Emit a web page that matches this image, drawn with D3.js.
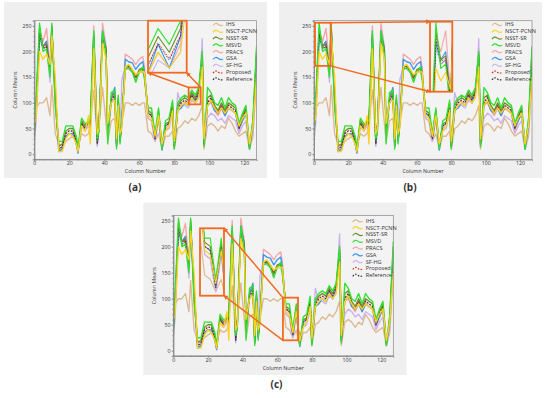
<!DOCTYPE html>
<html>
<head>
<meta charset="utf-8">
<script src="https://cdnjs.cloudflare.com/ajax/libs/d3/7.8.5/d3.min.js"></script>
<style>
  body { margin: 0; background: #fff; }
  svg { display: block; }
  text { font-family: "Open Sans", "DejaVu Sans", sans-serif; fill: #333; }
</style>
</head>
<body>
<div id="chart"></div>
<script>
var cols = [0,1,3,5,7,9,10,12,14,16,18,20,22,24,25,27,29,31,32,34,36,37,39,41,42,44,46,47,48,49,50,52,54,56,58,60,62,63,65,67,69,71,73,75,77,79,80,82,84,86,88,90,92,94,96,97,99,101,103,105,107,109,111,113,115,117,119,121,123,125,127];

var ihs       = [55,90,100,100,110,75,135,40,20,15,25,30,35,25,15,40,35,40,60,125,30,60,130,60,25,65,70,30,65,30,60,100,100,95,100,95,100,100,45,40,25,40,10,35,35,45,10,50,55,65,60,70,65,75,95,10,55,60,55,45,55,50,70,60,45,35,40,45,10,35,150];
var nsctPcnn  = [60,70,200,185,195,175,230,150,5,5,30,40,35,20,5,55,45,75,20,205,40,50,215,185,60,100,105,30,95,40,50,170,175,165,155,160,160,160,75,70,35,75,20,45,55,85,25,85,95,100,95,110,100,110,170,30,95,105,90,80,90,80,90,85,80,55,70,80,20,55,150];
var nsstSr    = [40,95,245,210,215,165,250,110,15,20,45,50,50,30,8,65,55,65,55,230,25,55,235,205,45,110,120,20,110,30,65,170,172,165,150,165,168,155,85,80,35,85,15,60,62,100,15,95,105,110,105,120,110,125,195,20,110,115,95,85,100,85,100,95,90,55,75,90,15,65,200];
var msvd      = [35,110,255,200,205,150,255,90,25,25,55,55,55,35,10,70,60,60,70,240,30,45,240,195,20,120,125,10,115,20,70,165,168,160,140,160,170,145,90,90,40,90,10,65,70,105,10,100,110,115,110,125,115,130,200,15,130,120,100,95,110,90,110,100,95,60,80,95,10,70,210];
var pracs     = [30,85,240,220,245,170,250,100,8,10,35,40,40,20,5,65,45,60,55,250,20,55,255,210,40,100,110,15,100,25,55,195,190,185,175,185,190,170,70,65,25,70,10,50,55,90,10,85,95,100,95,110,100,115,205,15,95,100,85,75,90,75,90,85,80,45,65,80,10,55,190];
var gsa       = [50,80,230,210,220,165,240,115,5,10,35,40,40,20,2,60,50,65,60,235,20,55,240,205,45,110,130,15,105,25,60,185,180,178,165,175,180,160,80,75,30,75,8,55,60,90,15,85,90,100,95,115,100,120,185,20,95,105,85,80,90,75,90,85,80,50,65,80,10,55,185];
var sfHg      = [25,60,225,205,210,140,240,125,10,10,35,40,40,20,5,55,45,55,50,220,15,50,225,195,40,100,115,20,100,30,145,170,165,160,150,160,160,150,70,65,25,70,15,45,50,80,20,120,95,95,90,105,100,110,225,25,70,80,75,65,70,60,75,70,65,40,55,65,15,45,170];
var proposed  = [45,92,235,208,212,158,246,118,10,14,40,46,44,25,5,62,50,64,60,228,20,58,232,200,42,106,116,15,104,26,62,168,171,162,148,162,166,152,80,76,30,80,14,55,60,95,15,90,100,105,100,116,106,121,192,20,101,110,90,81,95,80,96,90,85,50,70,85,14,60,192];
var reference = [45,90,235,205,210,160,245,120,10,15,40,45,45,25,5,60,50,65,60,225,20,60,230,200,40,105,115,15,105,25,60,165,170,160,145,160,165,150,80,75,30,80,15,55,60,95,15,90,100,105,100,115,105,120,190,20,100,110,90,80,95,80,95,90,85,50,70,85,15,60,190];

var seriesNames = ["IHS", "NSCT-PCNN", "NSST-SR", "MSVD", "PRACS", "GSA", "SF-HG", "Proposed", "Reference"];
var xTicks = [0, 20, 40, 60, 80, 100, 120];
var yTicks = [0, 50, 100, 150, 200, 250];

var colors = {
  "IHS": "#dcb98f", "NSCT-PCNN": "#ffd21c", "NSST-SR": "#6e8e2b", "MSVD": "#2fe02f",
  "PRACS": "#f4a6aa", "GSA": "#3b96ef", "SF-HG": "#cbb2ee", "Proposed": "#e3262c", "Reference": "#333"
};
var values = {
  "IHS": ihs, "NSCT-PCNN": nsctPcnn, "NSST-SR": nsstSr, "MSVD": msvd, "PRACS": pracs,
  "GSA": gsa, "SF-HG": sfHg, "Proposed": proposed, "Reference": reference
};
// drawing order (last one on top)
var drawOrder = ["IHS", "PRACS", "SF-HG", "GSA", "NSST-SR", "Proposed", "Reference", "MSVD", "NSCT-PCNN"];

var orange = "#f26a1f";

var panels = [
  { name: "a", bg: [4, 2, 267, 178], plot: [34.3, 256.5, 20.7, 159.3], legend: [213, 24.3], caption: [135, 191],
    zoom: [88.2, 95.1, 97, 130], inset: [148, 20.7, 186.7, 72.7], links: [["tl", "bl"], ["tr", "br"]] },
  { name: "b", bg: [279, 2, 542, 178], plot: [314, 532, 20.7, 159.3], legend: [492, 24.3], caption: [410, 191],
    zoom: [0.6, 9.7, 172, 256], inset: [430, 21.7, 452.3, 91.7], links: [["tr", "tl"], ["br", "bl"]] },
  { name: "c", bg: [143.3, 202.7, 406.7, 375], plot: [173.3, 393.3, 215.5, 355.9], legend: [352.7, 220.7], caption: [276.5, 388],
    zoom: [63.3, 72, 20, 102], inset: [200, 228.3, 224, 295.7], links: [["tl", "tr"], ["bl", "br"]] }
];

var svg = d3.select("#chart").append("svg")
    .attr("width", 550)
    .attr("height", 398);

var defs = svg.append("defs");
defs.append("marker")
    .attr("id", "arrowHead")
    .attr("viewBox", "0 0 10 10")
    .attr("refX", 8).attr("refY", 5)
    .attr("markerWidth", 3.2).attr("markerHeight", 3.2)
    .attr("orient", "auto")
  .append("path")
    .attr("d", "M0,0 L10,5 L0,10 z")
    .attr("fill", orange);

function drawLines(g, x, y, clipId, width) {
  drawOrder.forEach(function(name) {
    var line = d3.line()
        .x(function(d, i) { return x(cols[i]); })
        .y(function(d) { return y(d); });
    var p = g.append("path")
        .datum(values[name])
        .attr("clip-path", "url(#" + clipId + ")")
        .attr("fill", "none")
        .attr("stroke", colors[name])
        .attr("stroke-width", width)
        .attr("stroke-linejoin", "round")
        .attr("d", line);
    if (name === "Proposed" || name === "Reference") {
      p.attr("stroke-dasharray", "1.5,1.6").attr("stroke-width", width * 0.75);
    }
  });
}

panels.forEach(function(pn) {
  var g = svg.append("g");

  // grey panel background
  g.append("rect")
      .attr("x", pn.bg[0]).attr("y", pn.bg[1])
      .attr("width", pn.bg[2] - pn.bg[0]).attr("height", pn.bg[3] - pn.bg[1])
      .attr("fill", "#efefef");

  var x = d3.scaleLinear().domain([0, 127]).range([pn.plot[0], pn.plot[1]]);
  var y = d3.scaleLinear().domain([-10, 260]).range([pn.plot[3], pn.plot[2]]);

  var clipId = "clip-" + pn.name;
  defs.append("clipPath").attr("id", clipId)
    .append("rect")
      .attr("x", pn.plot[0]).attr("y", pn.plot[2])
      .attr("width", pn.plot[1] - pn.plot[0]).attr("height", pn.plot[3] - pn.plot[2]);

  g.append("rect")
      .attr("x", pn.plot[0]).attr("y", pn.plot[2])
      .attr("width", pn.plot[1] - pn.plot[0]).attr("height", pn.plot[3] - pn.plot[2])
      .attr("fill", "#f3f3f3");

  drawLines(g, x, y, clipId, 1.35);

  // frame
  g.append("rect")
      .attr("x", pn.plot[0]).attr("y", pn.plot[2])
      .attr("width", pn.plot[1] - pn.plot[0]).attr("height", pn.plot[3] - pn.plot[2])
      .attr("fill", "none").attr("stroke", "#888").attr("stroke-width", 0.7);

  // axes
  var xAxis = g.append("g")
      .attr("transform", "translate(0," + pn.plot[3] + ")")
      .call(d3.axisBottom(x).tickValues(xTicks).tickSize(1.8).tickPadding(0.6));
  var yAxis = g.append("g")
      .attr("transform", "translate(" + pn.plot[0] + ",0)")
      .call(d3.axisLeft(y).tickValues(yTicks).tickSize(1.8).tickPadding(1));
  g.append("g")
      .attr("transform", "translate(0," + pn.plot[3] + ")")
      .call(d3.axisBottom(x).tickValues(d3.range(0, 128, 5)).tickSize(1).tickFormat(""));
  g.append("g")
      .attr("transform", "translate(" + pn.plot[0] + ",0)")
      .call(d3.axisLeft(y).tickValues(d3.range(0, 261, 10)).tickSize(1).tickFormat(""));
  g.selectAll(".domain").attr("stroke", "#888").attr("stroke-width", 0.7);
  g.selectAll(".tick line").attr("stroke", "#777").attr("stroke-width", 0.6);
  [xAxis, yAxis].forEach(function(a) {
    a.selectAll("text").attr("font-size", "5.2px").attr("fill", "#333");
  });

  // axis titles
  g.append("text")
      .attr("x", (pn.plot[0] + pn.plot[1]) / 2)
      .attr("y", pn.plot[3] + 13.6)
      .attr("text-anchor", "middle")
      .attr("font-size", "5.3px")
      .text("Column Number");
  g.append("text")
      .attr("transform", "translate(" + (pn.plot[0] - 17) + "," + ((pn.plot[2] + pn.plot[3]) / 2) + ") rotate(-90)")
      .attr("text-anchor", "middle")
      .attr("font-size", "5.3px")
      .text("Column Means");

  // legend
  var lg = g.append("g").attr("transform", "translate(" + pn.legend[0] + "," + pn.legend[1] + ")");
  seriesNames.forEach(function(name, i) {
    var row = lg.append("g").attr("transform", "translate(0," + (i * 6.8) + ")");
    var wave = row.append("path")
        .attr("d", "M0,1.2 Q2.5,-2.2 5,0 T10,0.6")
        .attr("fill", "none")
        .attr("stroke", colors[name])
        .attr("stroke-width", 1.2);
    if (name === "Proposed" || name === "Reference") wave.attr("stroke-dasharray", "1.6,1.4");
    row.append("text")
        .attr("x", 13).attr("y", 2)
        .attr("font-size", "5.6px")
        .text(name);
  });

  // zoom region, inset and arrows
  var sx0 = x(pn.zoom[0]), sx1 = x(pn.zoom[1]), sy0 = y(pn.zoom[3]), sy1 = y(pn.zoom[2]);
  var src = { tl: [sx0, sy0], tr: [sx1, sy0], bl: [sx0, sy1], br: [sx1, sy1] };
  var ins = pn.inset;
  var dst = { tl: [ins[0], ins[1]], tr: [ins[2], ins[1]], bl: [ins[0], ins[3]], br: [ins[2], ins[3]] };

  var ix = d3.scaleLinear().domain([pn.zoom[0], pn.zoom[1]]).range([ins[0], ins[2]]);
  var iy = d3.scaleLinear().domain([pn.zoom[2], pn.zoom[3]]).range([ins[3], ins[1]]);
  var insetClip = "inset-" + pn.name;
  defs.append("clipPath").attr("id", insetClip)
    .append("rect")
      .attr("x", ins[0]).attr("y", ins[1])
      .attr("width", ins[2] - ins[0]).attr("height", ins[3] - ins[1]);
  g.append("rect")
      .attr("x", ins[0]).attr("y", ins[1])
      .attr("width", ins[2] - ins[0]).attr("height", ins[3] - ins[1])
      .attr("fill", "#f3f3f3");
  drawLines(g, ix, iy, insetClip, 1.1);

  g.append("rect")
      .attr("x", sx0).attr("y", sy0)
      .attr("width", sx1 - sx0).attr("height", sy1 - sy0)
      .attr("fill", "none").attr("stroke", orange).attr("stroke-width", 1.8);
  g.append("rect")
      .attr("x", ins[0]).attr("y", ins[1])
      .attr("width", ins[2] - ins[0]).attr("height", ins[3] - ins[1])
      .attr("fill", "none").attr("stroke", orange).attr("stroke-width", 1.8);

  pn.links.forEach(function(l) {
    var a = src[l[0]], b = dst[l[1]];
    g.append("line")
        .attr("x1", a[0]).attr("y1", a[1])
        .attr("x2", b[0]).attr("y2", b[1])
        .attr("stroke", orange)
        .attr("stroke-width", 1.5)
        .attr("marker-end", "url(#arrowHead)");
  });

  // caption
  svg.append("text")
      .attr("x", pn.caption[0]).attr("y", pn.caption[1])
      .attr("text-anchor", "middle")
      .attr("font-family", "'Liberation Serif', 'DejaVu Serif', serif")
      .attr("font-weight", "bold")
      .attr("font-size", "10px")
      .text("(" + pn.name + ")");
});
</script>
</body>
</html>
